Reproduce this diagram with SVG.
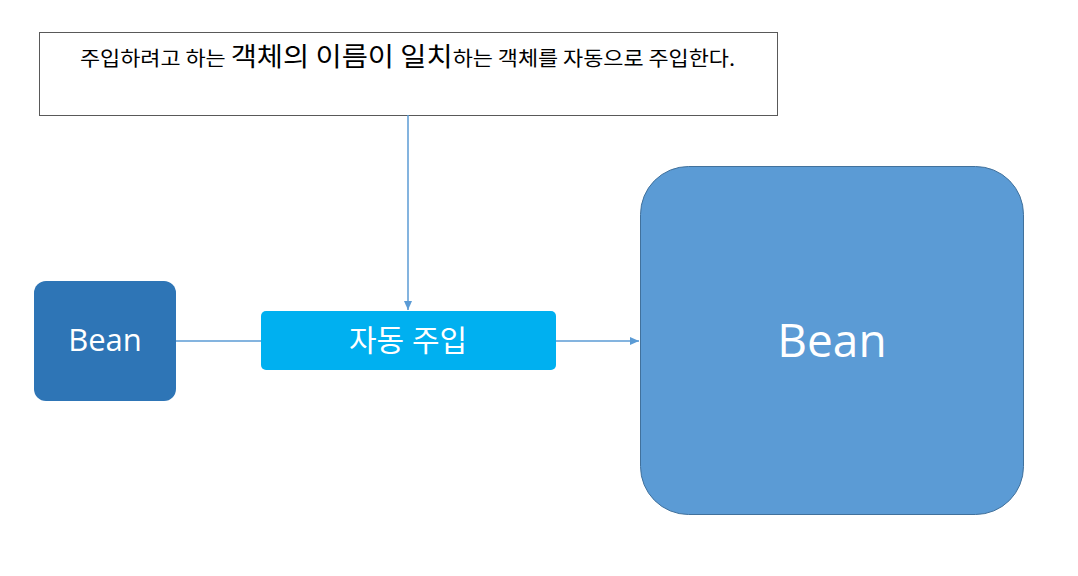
<svg xmlns="http://www.w3.org/2000/svg" width="1078" height="576" viewBox="0 0 1078 576">
<style>
.kr{font-family:"Noto Sans CJK KR","Noto Sans",sans-serif}
.w{fill:#ffffff;text-anchor:middle;font-family:"Open Sans","Noto Sans CJK KR",sans-serif}
.conn{stroke:#5B9BD5;stroke-width:1.5;fill:none}
</style>
<defs>
<marker id="arr" markerWidth="10" markerHeight="10" refX="9" refY="5" orient="auto" markerUnits="userSpaceOnUse">
<path d="M0,1 L9,5 L0,9 Z" fill="#5B9BD5"/>
</marker>
</defs>
<rect width="1078" height="576" fill="#ffffff"/>
<g id="note">
<rect x="39.5" y="32.5" width="738" height="83" fill="#ffffff" stroke="#595959" stroke-width="1"/>
<text x="80" y="66" class="kr" font-size="20" fill="#000000" textLength="655" lengthAdjust="spacingAndGlyphs">주입하려고 하는 <tspan font-size="26">객체의 이름이 일치</tspan>하는 객체를 자동으로 주입한다.</text>
</g>
<g id="connectors">
<line class="conn" x1="408" y1="115" x2="408" y2="310" marker-end="url(#arr)"/>
<line class="conn" x1="176" y1="341" x2="261" y2="341"/>
<line class="conn" x1="556" y1="341" x2="639" y2="341" marker-end="url(#arr)"/>
</g>
<g id="bean-small">
<rect x="34" y="281" width="142" height="120" rx="12" fill="#2E75B6"/>
<text x="105" y="351" class="w" font-size="31">Bean</text>
</g>
<g id="auto-inject">
<rect x="261" y="311" width="295" height="59" rx="5" fill="#00B0F0"/>
<text x="408" y="351" class="w" font-size="30">자동 주입</text>
</g>
<g id="bean-large">
<rect x="640.5" y="166.5" width="383" height="348" rx="48" fill="#5B9BD5" stroke="#41719C" stroke-width="1"/>
<text x="832" y="357" class="w" font-size="46">Bean</text>
</g>
</svg>
